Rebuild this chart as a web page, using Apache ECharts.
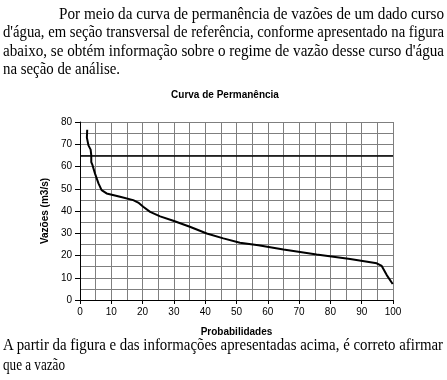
<!DOCTYPE html>
<html>
<head>
<meta charset="utf-8">
<script src="https://cdn.jsdelivr.net/npm/echarts@6/dist/echarts.min.js"></script>
<style>
html,body{margin:0;padding:0;background:#fff;}
#wrap{position:relative;width:447px;height:380px;overflow:hidden;}
#chart{position:absolute;left:0;top:0;width:447px;height:380px;}
.ln{position:absolute;white-space:nowrap;font-family:"Liberation Serif","Times New Roman",serif;font-size:16px;line-height:18px;color:#000;transform-origin:0 0;}
</style>
</head>
<body>
<div id="wrap">
<div id="chart"></div>
</div>
<script>
// ---- data ----
var probabilities = [2.3, 2.2, 2.7, 3.4, 3.6, 3.6, 4.0, 4.8, 5.9, 6.9, 8.5, 12.8, 17.0, 18.6, 20.2, 22.4, 25.6, 29.8, 35.1, 40.5, 45.8, 51.1, 57.0, 65.0, 75.6, 86.3, 94.8, 96.4, 98.0, 99.9];
var flows = [76.5, 73.0, 69.5, 67.6, 65.0, 62.0, 60.6, 56.8, 52.4, 49.4, 47.9, 46.4, 44.9, 43.8, 41.9, 39.6, 37.6, 35.6, 32.9, 29.9, 27.7, 25.7, 24.6, 22.7, 20.5, 18.4, 16.5, 15.3, 11.2, 7.2];
var referenceFlow = 65;
var chartTitle = "Curva de Permanência";
var xName = "Probabilidades";
var yName = "Vazões (m3/s)";
var textTop = [
  "Por meio da curva de permanência de vazões de um dado curso",
  "d'água, em seção transversal de referência, conforme apresentado na figura",
  "abaixo, se obtém informação sobre o regime de vazão desse curso d'água",
  "na seção de análise."
];
var textBottom = [
  "A partir da figura e das informações apresentadas acima, é correto afirmar",
  "que a vazão"
];

// ---- paragraph text (HTML) ----
var wrap = document.getElementById('wrap');
var lineSpecs = [
  {t: textTop[0], x: 59, base: 19.0, w: 385},
  {t: textTop[1], x: 3, base: 37.5, w: 441},
  {t: textTop[2], x: 3, base: 56.0, w: 441},
  {t: textTop[3], x: 3, base: 74.0, w: 117},
  {t: textBottom[0], x: 3, base: 350.5, w: 440},
  {t: textBottom[1], x: 3, base: 370.5, w: 62}
];
lineSpecs.forEach(function (s) {
  var d = document.createElement('div');
  d.className = 'ln';
  d.textContent = s.t;
  d.style.left = s.x + 'px';
  d.style.top = (s.base - 14.4) + 'px';
  wrap.appendChild(d);
  var w = d.getBoundingClientRect().width;
  d.style.transform = 'scaleX(' + (s.w / w) + ')';
});

// ---- chart ----
var pts = probabilities.map(function (p, i) { return [p, flows[i]]; });
var chart = echarts.init(document.getElementById('chart'), null, {renderer: 'canvas'});
var axisFont = {fontFamily: 'Liberation Sans, Arial, sans-serif', fontSize: 10, color: '#000'};
var gridLine = {show: true, lineStyle: {color: '#7f7f7f', width: 1}};
var tenOnly = function (v) { return (Math.round(v) % 10 === 0) ? String(Math.round(v)) : ''; };
var tickAxis = function (max, pos, len) {
  return {
    type: 'value', min: 0, max: max, interval: 10, position: pos,
    axisLine: {show: false}, axisLabel: {show: false}, splitLine: {show: false},
    axisTick: {show: true, length: len, lineStyle: {color: '#000'}}
  };
};
chart.setOption({
  animation: false,
  backgroundColor: 'transparent',
  title: {
    text: chartTitle,
    left: 220,
    top: 85,
    textAlign: 'center',
    textStyle: {fontFamily: 'Liberation Sans, Arial, sans-serif', fontSize: 10, fontWeight: 'bold', color: '#000'}
  },
  grid: {left: 80, right: 54, top: 122, bottom: 80, containLabel: false},
  xAxis: [{
    type: 'value', min: 0, max: 100, interval: 5, splitNumber: 20, position: 'bottom',
    name: xName, nameLocation: 'middle', nameGap: 27,
    nameTextStyle: {fontFamily: 'Liberation Sans, Arial, sans-serif', fontSize: 10, fontWeight: 'bold', color: '#000'},
    axisLine: {show: true, lineStyle: {color: '#000', width: 1}},
    axisTick: {show: false},
    axisLabel: Object.assign({margin: 7, formatter: tenOnly, hideOverlap: false}, axisFont),
    splitLine: gridLine
  }, tickAxis(100, 'bottom', 4)],
  yAxis: [{
    type: 'value', min: 0, max: 80, interval: 5, splitNumber: 16, position: 'left',
    name: yName, nameLocation: 'middle', nameGap: 28,
    nameTextStyle: {fontFamily: 'Liberation Sans, Arial, sans-serif', fontSize: 10, fontWeight: 'bold', color: '#000'},
    axisLine: {show: true, lineStyle: {color: '#000', width: 1}},
    axisTick: {show: false},
    axisLabel: Object.assign({margin: 8, formatter: tenOnly, hideOverlap: false}, axisFont),
    splitLine: gridLine
  }, tickAxis(80, 'left', 5)],
  series: [{
    type: 'line',
    xAxisIndex: 0,
    yAxisIndex: 0,
    data: pts,
    showSymbol: false,
    symbol: 'none',
    smooth: false,
    lineStyle: {color: '#000', width: 2},
    z: 5,
    markLine: {
      silent: true,
      symbol: ['none', 'none'],
      label: {show: false},
      lineStyle: {color: '#000', width: 1.5, type: 'solid'},
      data: [{yAxis: referenceFlow}]
    }
  }]
});
</script>
</body>
</html>
